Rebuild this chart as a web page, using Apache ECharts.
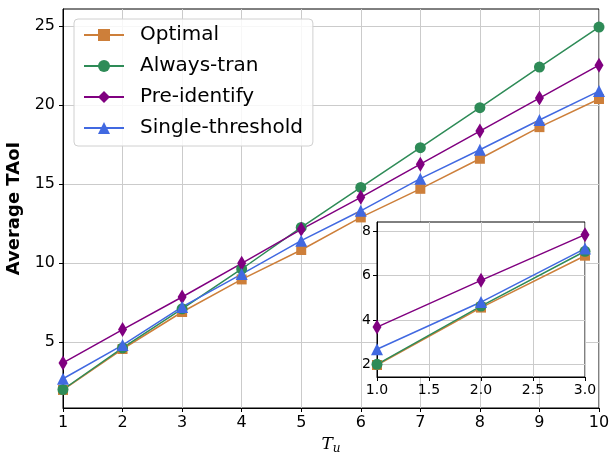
<!DOCTYPE html>
<html>
<head>
<meta charset="utf-8">
<script src="https://cdn.jsdelivr.net/npm/echarts@6/dist/echarts.min.js"></script>
<style>html,body{margin:0;padding:0;background:#fff;}#c{width:612px;height:457px;}</style>
</head>
<body>
<div id="c"></div>
<script>
const xs = [1, 2, 3, 4, 5, 6, 7, 8, 9, 10];
const optimal = [1.97, 4.56, 6.90, 8.96, 10.82, 12.88, 14.69, 16.59, 18.59, 20.37];
const alwaysTran = [2.00, 4.63, 7.10, 9.62, 12.25, 14.78, 17.29, 19.82, 22.39, 24.92];
const preIdentify = [3.68, 5.79, 7.85, 9.98, 12.13, 14.15, 16.25, 18.34, 20.43, 22.51];
const singleThreshold = [2.68, 4.81, 7.22, 9.30, 11.41, 13.30, 15.33, 17.16, 19.04, 20.87];
const names = ['Optimal', 'Always-tran', 'Pre-identify', 'Single-threshold'];
const yTicksMain = [5, 10, 15, 20, 25];
const yTicksInset = [2, 4, 6, 8];

const seriesDefs = [
  {name: names[0], data: optimal, color: '#cd7f3a', symbol: 'rect', size: 10},
  {name: names[1], data: alwaysTran, color: '#2e8b57', symbol: 'circle', size: 11},
  {name: names[2], data: preIdentify, color: '#800080', symbol: 'diamond', size: [9, 15]},
  {name: names[3], data: singleThreshold, color: '#4169e1', symbol: 'triangle', size: 12}
];

function pairs(arr) { return xs.map((x, i) => [x, arr[i]]); }

const series = [];
seriesDefs.forEach(d => {
  series.push({
    name: d.name, type: 'line', xAxisIndex: 0, yAxisIndex: 0,
    data: pairs(d.data), symbol: d.symbol, symbolSize: d.size, showAllSymbol: true,
    lineStyle: {color: d.color, width: 1.5}, itemStyle: {color: d.color},
    emphasis: {disabled: true}, animation: false, z: 2
  });
});
seriesDefs.forEach(d => {
  series.push({
    name: d.name, type: 'line', xAxisIndex: 1, yAxisIndex: 1,
    data: pairs(d.data), symbol: d.symbol, symbolSize: d.size, showAllSymbol: true, clip: true,
    lineStyle: {color: d.color, width: 1.5}, itemStyle: {color: d.color},
    emphasis: {disabled: true}, animation: false, z: 8
  });
});

const font = 'DejaVu Sans';
const chart = echarts.init(document.getElementById('c'), null, {renderer: 'canvas'});
chart.setOption({
  animation: false,
  backgroundColor: '#fff',
  textStyle: {fontFamily: font},
  grid: [
    {left: 63, right: 13, top: 9, bottom: 49, show: true, borderColor: '#000', borderWidth: 1, backgroundColor: 'transparent', z: 0, containLabel: false, outerBoundsMode: 'none'},
    {left: 377, right: 27, top: 222, bottom: 80, show: true, borderColor: '#000', borderWidth: 1, backgroundColor: '#fff', z: 5, containLabel: false, outerBoundsMode: 'none'}
  ],
  legend: {
    data: names, left: 74, top: 19, orient: 'vertical',
    padding: [6, 10, 8, 9], itemGap: 11, itemWidth: 40, itemHeight: 15,
    backgroundColor: 'rgba(255,255,255,0.85)', borderColor: '#d0d0d0', borderWidth: 1, borderRadius: 4,
    textStyle: {fontFamily: font, fontSize: 20, color: '#000', lineHeight: 20, padding: [0, 0, 0, 11]},
    z: 20
  },
  xAxis: [
    {
      type: 'value', gridIndex: 0, min: 1, max: 10, interval: 1,
      name: '{t|T}{u|u}', nameLocation: 'middle', nameGap: 23,
      nameTextStyle: {rich: {
        t: {fontFamily: 'DejaVu Serif', fontStyle: 'italic', fontSize: 17, color: '#000'},
        u: {fontFamily: 'DejaVu Serif', fontStyle: 'italic', fontSize: 12, color: '#000', padding: [9, 0, 0, 0]}
      }},
      axisLine: {show: true, lineStyle: {color: '#000', width: 1}},
      axisTick: {show: true, inside: false, length: 4, lineStyle: {color: '#000'}},
      axisLabel: {fontFamily: font, fontSize: 16, color: '#000', margin: 7},
      splitLine: {show: true, lineStyle: {color: '#cbcbcb', width: 1}},
      z: 0
    },
    {
      type: 'value', gridIndex: 1, min: 1, max: 3, interval: 0.5,
      axisLine: {show: true, lineStyle: {color: '#000', width: 1}},
      axisTick: {show: true, inside: false, length: 4, lineStyle: {color: '#000'}},
      axisLabel: {fontFamily: font, fontSize: 14, color: '#000', margin: 6, formatter: v => v.toFixed(1)},
      splitLine: {show: true, lineStyle: {color: '#cbcbcb', width: 1}},
      z: 6
    }
  ],
  yAxis: [
    {
      type: 'value', gridIndex: 0, min: 0.83, max: 26.06,
      name: 'Average TAoI', nameLocation: 'middle', nameGap: 35,
      nameTextStyle: {fontFamily: font, fontWeight: 'bold', fontSize: 18, color: '#000'},
      axisLine: {show: true, lineStyle: {color: '#000', width: 1}},
      axisTick: {show: true, inside: false, length: 4, lineStyle: {color: '#000'}, customValues: yTicksMain},
      axisLabel: {fontFamily: font, fontSize: 16, color: '#000', margin: 8, customValues: yTicksMain},
      splitLine: {show: true, lineStyle: {color: '#cbcbcb', width: 1}},
      z: 0
    },
    {
      type: 'value', gridIndex: 1, min: 1.43, max: 8.42,
      axisLine: {show: true, lineStyle: {color: '#000', width: 1}},
      axisTick: {show: true, inside: false, length: 4, lineStyle: {color: '#000'}, customValues: yTicksInset},
      axisLabel: {fontFamily: font, fontSize: 14, color: '#000', margin: 6, customValues: yTicksInset},
      splitLine: {show: true, lineStyle: {color: '#cbcbcb', width: 1}},
      z: 6
    }
  ],
  series: series
});
</script>
</body>
</html>
